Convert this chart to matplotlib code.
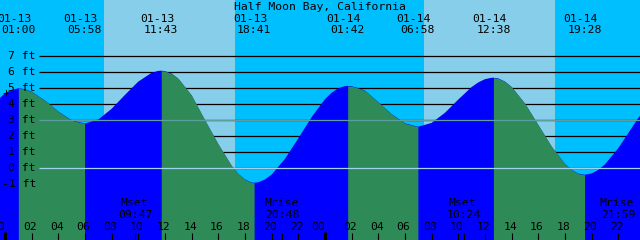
import matplotlib
matplotlib.use("Agg")
import matplotlib.pyplot as plt
import numpy as np

station = "Half Moon Bay, California"

# tide height, hours counted from 01-13 00:00, feet
hours = [-1, 0, 1, 2, 3, 4, 5, 6, 7, 8, 9, 10, 11, 12, 13, 14, 15, 16, 17, 18,
         19, 20, 21, 22, 23, 24, 25, 26, 27, 28, 29, 30, 31, 32, 33, 34, 35, 36,
         37, 38, 39, 40, 41, 42, 43, 44, 45, 46, 47, 48]
heights = [3.9, 4.7, 5.0, 4.79, 4.23, 3.55, 3.0, 2.8, 3.05, 3.72, 4.59, 5.42, 5.97,
           6.07, 5.6, 4.55, 3.0, 1.5, 0.15, -0.7, -0.87, -0.39, 0.59, 1.87, 3.2,
           4.32, 5.0, 5.13, 4.85, 4.13, 3.38, 2.81, 2.6, 2.84, 3.47, 4.3, 5.08,
           5.57, 5.62, 5.08, 4.04, 2.7, 1.35, 0.27, -0.33, -0.32, 0.25, 1.26,
           2.52, 3.77]

# extra readings around the turns
half_hours = [0.5, 1.5, 11.5, 12.5, 17.5, 18.5, 19.5, 24.5, 25.5, 26.5,
              35.5, 36.5, 37.5, 42.5, 43.5, 44.5]
half_heights = [4.9, 4.95, 6.09, 5.92, -0.35, -0.89, -0.7, 4.72, 5.14, 5.01,
                5.37, 5.66, 5.42, -0.1, -0.4, -0.1]

# highs and lows
event_dates = ["01-13", "01-13", "01-13", "01-13", "01-14", "01-14", "01-14", "01-14"]
event_times = ["01:00", "05:58", "11:43", "18:41", "01:42", "06:58", "12:38", "19:28"]
event_heights = [5.0, 2.8, 6.1, -0.9, 5.15, 2.6, 5.66, -0.4]

# daylight
sunrise = ["07:25", "07:26"]
sunset = ["17:15", "17:15"]

moon_names = ["Mset", "Mrise", "Mset", "Mrise"]
moon_times = ["09:47", "20:48", "10:24", "21:59"]
moon_days = [0, 0, 1, 1]

ft_levels = [-1, 0, 1, 2, 3, 4, 5, 6, 7]
now_hour, now_height = 0.07, 4.71


def to_hours(s, day=0):
    hh, mm = s.split(":")
    return day * 24 + int(hh) + int(mm) / 60.0


event_hours = [to_hours(t, 0 if d == "01-13" else 1) for d, t in zip(event_dates, event_times)]
moon_hours = [to_hours(t, d) for t, d in zip(moon_times, moon_days)]

# pixel helpers for layout only (640 px = 48 h, 16 px per foot)
PXH = 640 / 48.0

def hx(px):
    return px / PXH - 0.375

def fy(px):
    return (168.3 - px) / 16.0

t = np.array(hours + half_hours + event_hours, dtype=float)
h = np.array(heights + half_heights + event_heights, dtype=float)
order = np.argsort(t, kind="stable")
t, h = t[order], h[order]

night = "#00bfff"
day = "#87ceeb"
flood = "#0000ff"
ebb = "#2e8b57"
mono = "DejaVu Sans Mono"
fs = 8.2

fig = plt.figure(figsize=(6.4, 2.4), dpi=100)
fig.patch.set_facecolor(night)
ax = fig.add_axes([0, 0, 1, 1])
ax.set_facecolor(night)
for s in ax.spines.values():
    s.set_visible(False)
ax.set_xticks([])
ax.set_yticks([])
ax.set_xlim(hx(0), hx(640))
ax.set_ylim(fy(240), fy(0))

for d, (r, s) in enumerate(zip(sunrise, sunset)):
    ax.axvspan(to_hours(r, d), to_hours(s, d), color=day, lw=0, zorder=0)

# grid lines behind the water
ax.hlines(ft_levels, hx(39), hx(640), colors="black", lw=0.9, zorder=1)

# water: flood everywhere, ebb where falling
ax.fill_between(t, h, fy(260), color=flood, lw=0, zorder=2)
bounds = [t[0]] + event_hours + [t[-1]]
for a, b in zip(bounds[:-1], bounds[1:]):
    if np.interp(b, t, h) < np.interp(a, t, h):
        m = (t >= a) & (t <= b)
        ax.fill_between(t[m], h[m], fy(260), color=ebb, lw=0, zorder=3)

ax.hlines([3], hx(39), hx(640), colors="#5f9ea0", lw=0.9, zorder=4)
ax.hlines([0], hx(39), hx(640), colors="#9fd3ee", lw=0.9, zorder=4)

# y labels
for lv in ft_levels:
    ax.text(hx(36), lv - 3 / 16.0, "%d ft" % lv, ha="right", va="baseline",
            family=mono, fontsize=fs, zorder=6)

ax.text(now_hour, now_height, "+", ha="center", va="center", family=mono,
        fontsize=fs, zorder=6)

# title and event labels
ax.text(hx(320), fy(9.5), station, ha="center", va="baseline", family=mono,
        fontsize=fs, zorder=6)
for eh, d, tm in zip(event_hours, event_dates, event_times):
    ax.text(eh - 4 / PXH, fy(21.7), d, ha="center", va="baseline",
            family=mono, fontsize=fs, zorder=6)
    ax.text(eh, fy(33.3), tm, ha="center", va="baseline", family=mono,
            fontsize=fs, zorder=6)

# moon events
for mh, n, tm in zip(moon_hours, moon_names, moon_times):
    ax.text(mh - 1 / PXH, fy(206), n, ha="center", va="baseline",
            family=mono, fontsize=fs, zorder=6)
    ax.text(mh, fy(217.7), tm, ha="center", va="baseline", family=mono,
            fontsize=fs, zorder=6)
ax.vlines(moon_hours, fy(240), fy(233), colors="black", lw=0.8, zorder=6)

# hour axis
tick_hours = np.arange(0, 48, 2)
for th in tick_hours:
    lab = "%02d" % (th % 24)
    if th % 24 == 0:
        ax.vlines(th, fy(240), fy(232), colors="black", lw=2.2, zorder=6)
        ax.text(th, fy(230), lab, ha="right", va="baseline", family=mono,
                fontsize=fs, zorder=6)
    else:
        ax.vlines(th, fy(240), fy(233), colors="black", lw=0.8, zorder=6)
        ax.text(th - 1.5 / PXH, fy(230), lab, ha="center", va="baseline",
                family=mono, fontsize=fs, zorder=6)

fig.savefig("out.png", dpi=100, facecolor=night)
